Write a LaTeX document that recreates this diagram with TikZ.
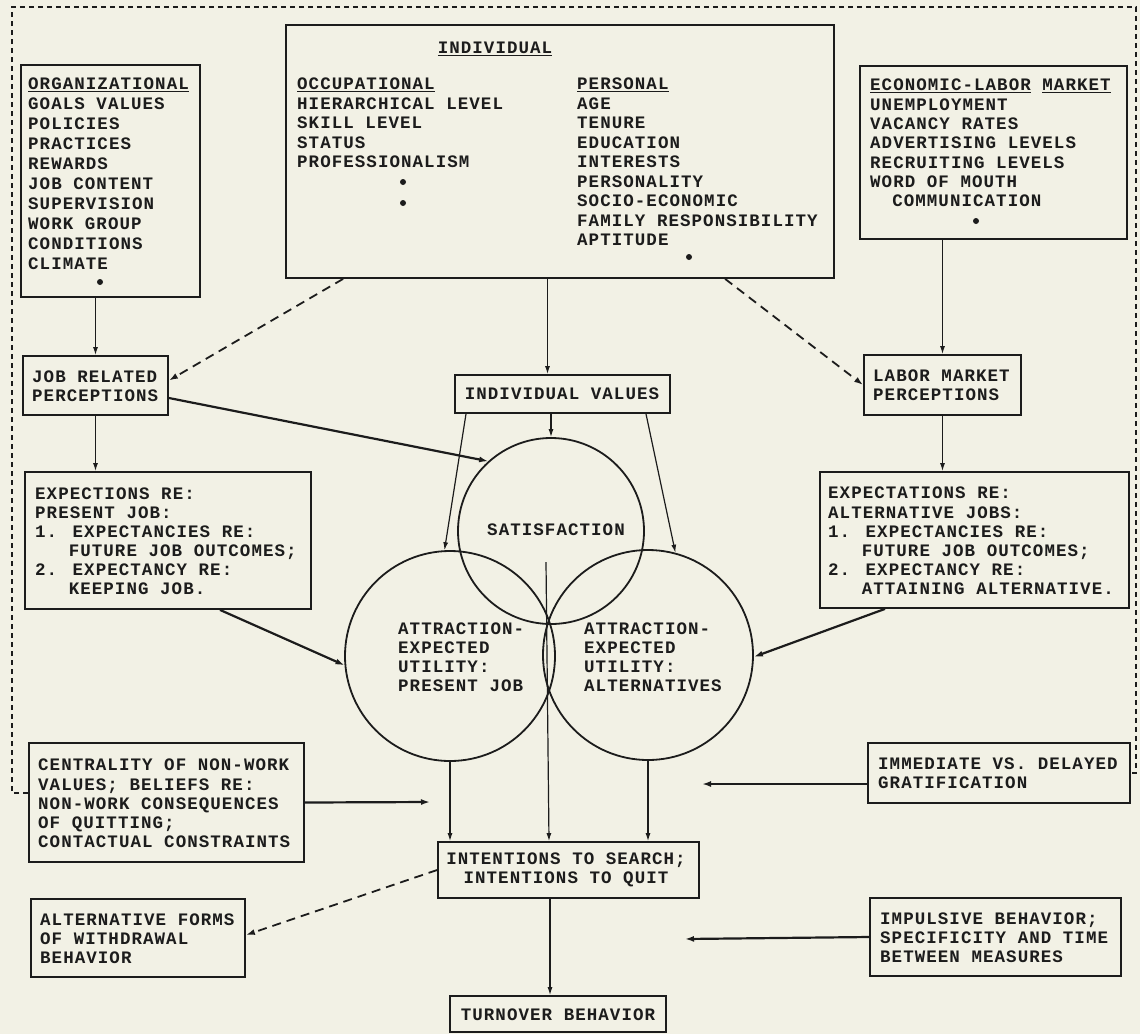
\documentclass[tikz,border=0pt]{standalone}
\usepackage{fontspec}
\newfontfamily\tw{Liberation Mono}[LetterSpace=6.0]
\usetikzlibrary{arrows.meta,fit}
\definecolor{paper}{RGB}{242,241,229}
\definecolor{ink}{RGB}{28,28,28}
\newcommand{\fs}[1]{\tw\bfseries\fontsize{17.5pt}{#1}\selectfont}
\begin{document}
\begin{tikzpicture}[x=1pt,y=-1pt,
  bx/.style={draw=ink,line width=1.8pt,inner sep=0pt},
  tx/.style={text=ink,font=\fs{19.5pt},inner sep=0pt,align=left,anchor=north west},
  tc/.style={tx,align=center,anchor=center},
  ln/.style={draw=ink,line width=1.2pt,-{Latex[length=8pt,width=5pt]}},
  lnt/.style={draw=ink,line width=2.2pt,-{Latex[length=9pt,width=6pt]}},
  dl/.style={draw=ink,line width=1.8pt,dash pattern=on 9pt off 6pt,-{Latex[length=9pt,width=6pt]}},
  brd/.style={draw=ink,line width=1.4pt,dash pattern=on 5pt off 4pt},
  cir/.style={circle,draw=ink,line width=1.8pt,inner sep=0pt},
  dotn/.style={circle,fill=ink,inner sep=0pt,minimum size=6pt}
]
\fill[paper] (0,0) rectangle (1140,1034);
\useasboundingbox (0,0) rectangle (1140,1034);

% ORGANIZATIONAL
\node[bx,fit={(21,65)(200,297)}] (org) {};
\node[tx,font=\fs{20pt}] (orgt) at (28,78)
 {\underline{ORGANIZATIONAL}\\GOALS VALUES\\POLICIES\\PRACTICES\\REWARDS\\JOB CONTENT\\SUPERVISION\\WORK GROUP\\CONDITIONS\\CLIMATE};
\node[dotn] (orgd) at (100,282) {};

% INDIVIDUAL
\node[bx,fit={(286,25)(834,278)}] (ind) {};
\node[tx,anchor=north] (indt) at (495,42) {\underline{INDIVIDUAL}};
\node[tx] (occ) at (297,78) {\underline{OCCUPATIONAL}\\HIERARCHICAL LEVEL\\SKILL LEVEL\\STATUS\\PROFESSIONALISM};
\node[tx] (per) at (577,78) {\underline{PERSONAL}\\AGE\\TENURE\\EDUCATION\\INTERESTS\\PERSONALITY\\SOCIO-ECONOMIC\\FAMILY RESPONSIBILITY\\APTITUDE};
\node[dotn] (occd1) at (403,182) {};
\node[dotn] (occd2) at (403,203) {};
\node[dotn] (perd) at (689,257) {};

% ECONOMIC
\node[bx,fit={(860,66)(1127,239)}] (eco) {};
\node[tx,font=\fs{19.3pt}] (ecot) at (870,79)
 {\underline{ECONOMIC-LABOR} \underline{MARKET}\\UNEMPLOYMENT\\VACANCY RATES\\ADVERTISING LEVELS\\RECRUITING LEVELS\\WORD OF MOUTH\\\phantom{XX}COMMUNICATION};
\node[dotn] (ecod) at (976,221) {};

% perceptions
\node[bx,fit={(23,356)(168,415)}] (jr) {};
\node[tx,font=\fs{19pt}] (jrt) at (32,371) {JOB RELATED\\PERCEPTIONS};
\node[bx,fit={(864,355)(1021,415)}] (lmp) {};
\node[tx,font=\fs{19pt}] (lmpt) at (873,370) {LABOR MARKET\\PERCEPTIONS};
\node[bx,fit={(455,375)(670,413)}] (iv) {};
\node[tc] (ivt) at (562,394) {INDIVIDUAL VALUES};

% expectations
\node[bx,fit={(25,472)(311,609)}] (exp) {};
\node[tx,font=\fs{19pt}] (expt) at (35,488)
 {EXPECTIONS RE:\\PRESENT JOB:\\1. EXPECTANCIES RE:\\\phantom{XXX}FUTURE JOB OUTCOMES;\\2. EXPECTANCY RE:\\\phantom{XXX}KEEPING JOB.};
\node[bx,fit={(820,472)(1129,608)}] (alt) {};
\node[tx,font=\fs{19.2pt}] (altt) at (828,487)
 {EXPECTATIONS RE:\\ALTERNATIVE JOBS:\\1. EXPECTANCIES RE:\\\phantom{XXX}FUTURE JOB OUTCOMES;\\2. EXPECTANCY RE:\\\phantom{XXX}ATTAINING ALTERNATIVE.};

% circles
\node[cir,minimum size=186pt] (sat) at (551,531) {};
\node[tc] (satt) at (556,530) {SATISFACTION};
\node[cir,minimum size=210pt] (lc) at (450,656) {};
\node[cir,minimum size=210pt] (rc) at (648,655) {};
\node[tx,font=\fs{19pt}] (lct) at (398,623) {ATTRACTION-\\EXPECTED\\UTILITY:\\PRESENT JOB};
\node[tx,font=\fs{19pt}] (rct) at (584,623) {ATTRACTION-\\EXPECTED\\UTILITY:\\ALTERNATIVES};

% lower boxes
\node[bx,fit={(438,842)(699,898)}] (int) {};
\node[tc,font=\fs{19pt}] (intt) at (566,870) {INTENTIONS TO SEARCH;\\INTENTIONS TO QUIT};
\node[bx,fit={(450,996)(666,1032)}] (tu) {};
\node[tc] (tut) at (558,1015) {TURNOVER BEHAVIOR};
\node[bx,fit={(29,743)(304,862)}] (cen) {};
\node[tx,font=\fs{19.25pt}] (cent) at (38,759)
 {CENTRALITY OF NON-WORK\\VALUES; BELIEFS RE:\\NON-WORK CONSEQUENCES\\OF QUITTING;\\CONTACTUAL CONSTRAINTS};
\node[bx,fit={(31,899)(245,977)}] (af) {};
\node[tx,font=\fs{19pt}] (aft) at (40,914) {ALTERNATIVE FORMS\\OF WITHDRAWAL\\BEHAVIOR};
\node[bx,fit={(868,743)(1130,803)}] (imm) {};
\node[tx,font=\fs{19pt}] (immt) at (878,758) {IMMEDIATE VS. DELAYED\\GRATIFICATION};
\node[bx,fit={(870,898)(1121,976)}] (imp) {};
\node[tx,font=\fs{19pt}] (impt) at (880,913) {IMPULSIVE BEHAVIOR;\\SPECIFICITY AND TIME\\BETWEEN MEASURES};

% free ends
\coordinate (cenend) at (430,802);
\coordinate (immend) at (702,784);
\coordinate (impend) at (685,939);
\coordinate (cl) at (546,562);
\coordinate (ivin) at ([xshift=-15pt]iv.north);
\coordinate (ts) at ([xshift=-18.5pt]int.south);

% connectors
\draw[ln] (jr.north |- org.south) -- (jr.north);
\draw[dl] ([xshift=58pt]ind.south west) -- ([yshift=5pt]jr.east);
\draw[dl] ([xshift=440pt]ind.south west) -- (lmp.west);
\draw[ln] (ind.south -| ivin) -- (ivin);
\draw[ln] (eco.south -| lmp.north) -- (lmp.north);
\draw[ln] (jr.south) -- (exp.north -| jr.south);
\draw[ln] (lmp.south) -- (alt.north -| lmp.south);
\draw[lnt] ([yshift=-12.5pt]jr.east) -- (sat.132);
\draw[ln] (iv.south -| sat.north) -- (sat.north);
\draw[ln] ([xshift=-96.5pt]iv.south) -- (lc.93);
\draw[ln] ([xshift=83.5pt]iv.south) -- (rc.75);
\draw[lnt] ([xshift=52pt]exp.south) -- (lc.185);
\draw[lnt] ([xshift=-89.5pt]alt.south) -- (rc.-1);
\draw[ln] (cl) -- ([xshift=-19.5pt]int.north);
\draw[ln] (lc.south) -- (int.north -| lc.south);
\draw[ln] (rc.south) -- (int.north -| rc.south);
\draw[lnt] (cen.east) -- (cenend);
\draw[lnt] ([yshift=-11pt]imm.west) -- (immend);
\draw[lnt] (imp.west) -- (impend);
\draw[dl] (int.west) -- ([yshift=3pt]af.east);
\draw[ln] (ts) -- (tu.north -| ts);

% dashed frame
\draw[brd] ([yshift=9.5pt]cen.west) -- (12,793) -- (12,7) -- (1136,7) -- (1136,773) -- (imm.east);
\end{tikzpicture}
\end{document}
